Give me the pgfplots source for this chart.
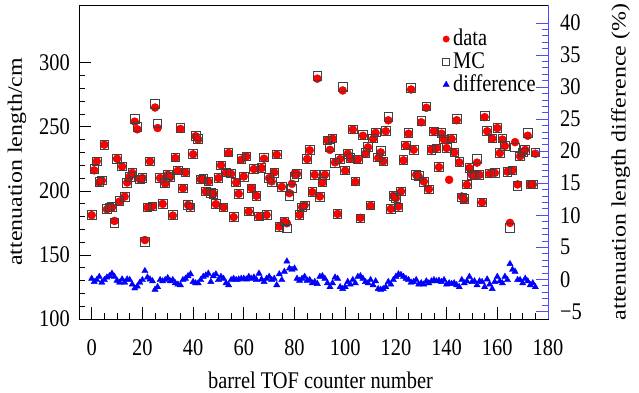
\documentclass[border=0pt]{standalone}
\usepackage{fontspec}
\setmainfont{Liberation Serif}
\usepackage{graphicx}
\usepackage{pgfplots}
\usepackage{pgfplotstable}
\pgfplotsset{compat=1.18}
\newcommand{\hs}[1]{\scalebox{1}[1.17]{#1}}
\newcommand{\vs}[1]{\scalebox{1.17}[1]{#1}}
\pgfplotstableread{
n d m r
0 181 181 0.1
1 216 217 -0.4
2 223 223 -0.1
3 206.5 207 0.4
4 208 208 -0.5
5 236 236 -0.1
6 185.6 186 0.3
7 187 187 0.5
8 187 187.5 0.9
9 176.5 175 0.4
10 225 225 -0.2
11 191.6 192 -0.5
12 219 219 0
13 195.5 195.5 -0.5
14 206.5 206 0
15 211 211 -0.1
16 214 214 -0.8
17 254 256 -1.4
18 248 250 -1.1
19 209 209 -0.5
20 210 210 -0.1
21 161.6 160 1.3
22 187 187 0.3
23 223 223 0
24 188 188 -0.3
25 265 268 -1.6
26 249 252.5 -1.2
27 210 210 -0.1
28 189.8 190 -0.3
29 205.5 206 -0.1
30 212.5 212.5 0.2
31 210.7 211 -0.3
32 180.7 181 -0.1
33 225.6 226 -0.6
34 215.7 216 -0.8
35 248.3 249 -0.9
36 202 202 -0.1
37 214.4 214.4 0.1
38 189 189 0.5
39 187.7 187 0.8
40 228.5 229 -0.4
41 242.6 243 -0.6
42 240 240.5 -0.6
43 209 209 -0.1
44 209 209.5 0.4
45 199.5 199.5 0.6
46 207.3 207.5 0.9
47 198.7 198.5 -0.4
48 197.7 197.5 0.5
49 189.6 190 0.8
50 210 210 -0.1
51 220 220 0.4
52 187.2 187 0.1
53 214.4 214.5 -0.6
54 229.5 230 -0.9
55 213.3 213.5 -0.1
56 179.5 179.5 0.1
57 206.5 206.5 -0.1
58 197.7 197.5 0
59 224.3 225 0.1
60 211.2 211 0.1
61 226.9 227 0
62 183.8 184 0.4
63 202.1 202 0.1
64 217 217 0.3
65 196.1 196 -0.1
66 179.9 180 0.9
67 217.8 218 0
68 225.1 226 -0.4
69 181.2 181 0.1
70 209.9 210 0.4
71 207.3 207 -0.1
72 214.4 214 0.1
73 228.2 228.5 -0.9
74 172.1 172 0.8
75 203.1 203 -0.1
76 176 176 1.2
77 174.7 170.8 2.8
78 198.2 196 1.7
79 205.5 202 1.5
80 213.3 211 1.7
81 213.3 213 0.1
82 181.2 181 -0.2
83 187.2 187 0.1
84 188.8 188.5 0.4
85 224.8 225 -0.2
86 231.6 232 -0.1
87 199 199 -0.6
88 212.5 212.5 -0.4
89 287.5 289.6 -0.7
90 195.6 195.5 0.4
91 206.5 207 0.5
92 212.5 212.5 0.1
93 239.4 239.5 -0.6
94 232 234 -1.2
95 240.7 241 -0.6
96 222.2 222 0.3
97 182 182 0.1
98 224.8 225 -1.2
99 278.3 281.2 -1.5
100 215.7 216 -1.2
101 229 229 -0.4
102 225.3 225.5 -0.8
103 247.8 248 -0.1
104 207 207.5 -0.6
105 224.3 224.5 0.4
106 178.9 178.5 0.5
107 243 243.5 0.1
108 229 229.5 -0.4
109 233.9 234.5 -0.6
110 188.3 188.5 -0.1
111 240.5 241 -0.9
112 245.2 245.5 -0.3
113 225.6 226 -1.5
114 230 231 -1.6
115 223 223 -1.5
116 246.5 247 -1.2
117 255 257.7 -0.4
118 185.9 186 -0.8
119 196.1 196 -0.1
120 194.3 194.5 0.4
121 187.7 187 0.8
122 199.5 199.5 0.7
123 223.8 224 0.4
124 235.2 235.5 0.1
125 244.6 245 -0.1
126 279.1 280.5 -0.5
127 232.1 232 -0.4
128 212.5 212.5 -0.1
129 211.2 211.5 -0.8
130 253.5 254.5 -0.6
131 207.3 207 -0.8
132 264.8 266 -0.3
133 201.3 201 -0.6
134 232.1 232 -0.3
135 246.5 246.5 -0.1
136 233.4 233 -0.3
137 218.5 218.5 -0.2
138 244.6 245 -0.4
139 239.9 240 -0.1
140 233.4 233.5 -0.8
141 208.6 nan -0.6
142 240.5 241 -0.7
143 230 230 -0.6
144 255.1 256 -0.9
145 222.2 222.5 -1.2
146 195.6 195 -0.1
147 193 193.5 -0.6
148 204.7 205 -0.3
149 217.8 218 0.4
150 212.5 212.5 -0.4
151 211.7 212 -0.3
152 222 225 -0.9
153 212.5 212.5 -0.3
154 191 191 -0.4
155 257.5 258.7 -1.2
156 246.5 247 0
157 213.3 213.5 -0.8
158 240.7 241 -1.5
159 214 214 -0.4
160 249 249 0.4
161 229.5 229.5 -0.3
162 240 241 -0.6
163 235 235 0.4
164 215 215 -0.1
165 175 171 2.4
166 216 216 1.5
167 238 234 1.2
168 205 204 -0.1
169 227 227 -0.1
170 229.6 230 -0.6
171 232 232 0.1
172 243 245 -0.3
173 205 205 -0.9
174 205 205 -0.6
175 229 230 -1.2
}\tbl
\begin{document}
\fontsize{20.5}{24}\selectfont
\begin{tikzpicture}
\useasboundingbox (-79bp,-74bp) rectangle (560bp,319bp);
\begin{axis}[
  scale only axis, width=469bp, height=314bp,
  xmin=-5, xmax=180, ymin=100, ymax=345,
  xtick={0,20,...,180}, minor x tick num=3,
  ytick={100,150,...,300}, minor y tick num=4,
  xtick pos=bottom, ytick pos=left,
  tick align=inside,
  major tick length=12bp, minor tick length=6bp,
  tick label style={font=\fontsize{20.5}{24}\selectfont},
  xticklabel={\hs{\pgfmathprintnumber[assume math mode=true]{\tick}}},
  yticklabel={\hs{\pgfmathprintnumber[assume math mode=true]{\tick}}},
  xticklabel style={anchor=center, yshift=-29bp},
  yticklabel style={anchor=east, inner sep=0pt, xshift=-9bp},
  xlabel={\hs{barrel TOF counter number}},
  ylabel={\vs{attenuation length/cm}},
  xlabel style={font=\fontsize{20.5}{24}\selectfont, at={(axis description cs:0.515,0)}, anchor=center, yshift=-61bp},
  ylabel style={font=\fontsize{20.5}{24}\selectfont, at={(axis description cs:-0.132,0.5)}, anchor=center},
  axis line style={black, line width=0.6pt},
  every tick/.style={black, line width=0.6pt},
]
\addplot[only marks, mark=*, mark size=4bp, color=red, mark options={fill=red, draw=red!85!black}] table[x=n, y=d]{\tbl};
\addplot[only marks, mark=square, mark size=4.3bp, mark options={draw=black!75, line width=0.8pt}] table[x=n, y=m]{\tbl};
\end{axis}
\begin{axis}[
  scale only axis, width=469bp, height=314bp,
  xmin=-5, xmax=180, ymin=-6.2, ymax=42.8,
  axis x line=none,
  axis y line*=right,
  ytick={-5,0,...,40},
  yticklabels={\hs{−5},\hs{0},\hs{5},\hs{10},\hs{15},\hs{20},\hs{25},\hs{30},\hs{35},\hs{40}},
  minor y tick num=4,
  tick align=inside,
  major tick length=12bp, minor tick length=6bp,
  tick label style={font=\fontsize{20.5}{24}\selectfont, black},
  yticklabel style={anchor=west, inner sep=0pt, xshift=12bp},
  y axis line style={blue!70, line width=0.6pt},
  every tick/.style={blue!70, line width=0.6pt},
  ylabel={\vs{attenuation length difference (\%)}},
  ylabel style={font=\fontsize{20.5}{24}\selectfont, at={(axis description cs:1.155,0.5)}, anchor=center},
  legend style={draw=none, fill=none, at={(0.975,0.925)}, anchor=north east, font=\fontsize{20.5}{24}\selectfont, row sep=2.5bp, column sep=3bp, inner sep=0pt, nodes={inner sep=0.5bp}},
  legend cell align=left,
]
\addlegendimage{only marks, mark=*, mark size=3.2bp, red}
\addlegendentry{\hs{data}}
\addlegendimage{only marks, mark=square, mark size=3.5bp, black!75}
\addlegendentry{\hs{MC}}
\addplot[only marks, mark=triangle*, mark size=3.6bp, color=blue, mark options={fill=blue}] table[x=n, y=r]{\tbl};
\addlegendentry{\hs{difference}}
\end{axis}
\end{tikzpicture}
\end{document}
